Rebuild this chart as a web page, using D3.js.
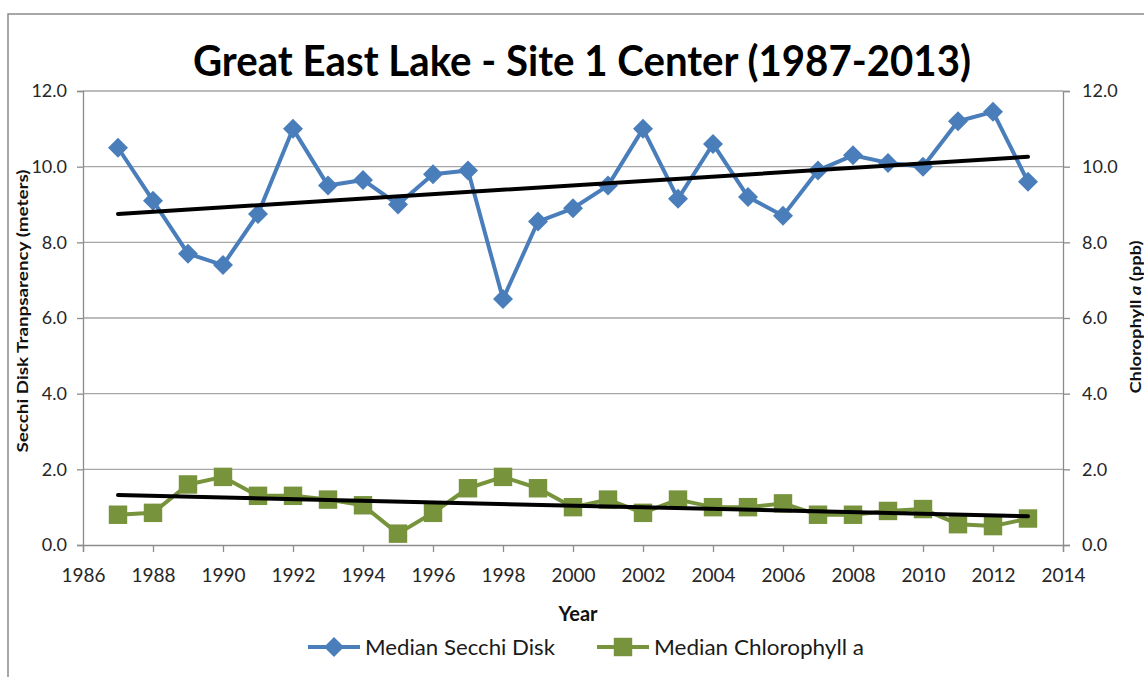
<!DOCTYPE html>
<html>
<head>
    <title>Great East Lake - Site 1 Center</title>
    <script src='https://d3js.org/d3.v7.min.js'></script>
    <style>
        html, body {
            margin: 0;
            padding: 0;
            background: white;
            font-family: Lato, 'Open Sans', Arial, sans-serif;
        }
        #vis { width: 1144px; height: 677px; overflow: hidden; }
        .axis path, .axis line { stroke: #8c8c8c; stroke-width: 1.3; }
        .axis text { font-family: Lato, Arial, sans-serif; font-size: 18px; fill: #262626; }
    </style>
</head>
<body>
<div id="vis"></div>
<script>

// data
var years = [1987, 1988, 1989, 1990, 1991, 1992, 1993, 1994, 1995, 1996, 1997, 1998, 1999, 2000,
             2001, 2002, 2003, 2004, 2005, 2006, 2007, 2008, 2009, 2010, 2011, 2012, 2013];
var secchi = [10.5, 9.1, 7.7, 7.4, 8.75, 11.0, 9.5, 9.65, 9.0, 9.8, 9.9, 6.5, 8.55, 8.9,
              9.5, 11.0, 9.15, 10.6, 9.2, 8.7, 9.9, 10.3, 10.1, 10.0, 11.2, 11.45, 9.6];
var chlorophyll = [0.8, 0.85, 1.6, 1.8, 1.3, 1.3, 1.2, 1.05, 0.3, 0.85, 1.5, 1.8, 1.5, 1.0,
                   1.2, 0.85, 1.2, 1.0, 1.0, 1.1, 0.8, 0.8, 0.9, 0.95, 0.55, 0.5, 0.7];
// linear trendline end points (Excel trendline)
var trendYears = [1987, 2013];
var secchiTrend = [8.75, 10.26];
var chlTrend = [1.32, 0.76];

var xTicks = [1986, 1988, 1990, 1992, 1994, 1996, 1998, 2000, 2002, 2004, 2006, 2008, 2010, 2012, 2014];
var yTicks = [0, 2, 4, 6, 8, 10, 12];

var width = 1144, height = 677;
var plot = {left: 83, right: 1063, top: 91, bottom: 545};
var blue = '#4a7ebb', green = '#77933c';

var svg = d3.select('#vis')
    .append('svg')
    .attr('width', width)
    .attr('height', height);

// chart frame
svg.append('rect')
    .attr('x', 8).attr('y', 14)
    .attr('width', 1160).attr('height', 700)
    .attr('fill', 'none')
    .attr('stroke', '#8a8a8a')
    .attr('stroke-width', 1.5);

var x_scale = d3.scaleLinear().domain([1986, 2014]).range([plot.left, plot.right]);
var y_scale = d3.scaleLinear().domain([0, 12]).range([plot.bottom, plot.top]);
var y2_scale = d3.scaleLinear().domain([0, 12]).range([plot.bottom, plot.top]);

// gridlines
svg.append('g').selectAll('line')
    .data(yTicks.slice(1))
    .enter().append('line')
    .attr('x1', plot.left).attr('x2', plot.right)
    .attr('y1', function(d) {return y_scale(d);})
    .attr('y2', function(d) {return y_scale(d);})
    .attr('stroke', '#a6a6a6')
    .attr('stroke-width', 1.3);

var fmt = d3.format('.1f');
svg.append('g').attr('class', 'axis')
    .attr('transform', 'translate(' + plot.left + ',0)')
    .call(d3.axisLeft(y_scale).tickValues(yTicks).tickFormat(fmt).tickSizeOuter(0).tickSize(6).tickPadding(10));
svg.append('g').attr('class', 'axis')
    .attr('transform', 'translate(' + plot.right + ',0)')
    .call(d3.axisRight(y2_scale).tickValues(yTicks).tickFormat(fmt).tickSizeOuter(0).tickSize(7).tickPadding(12));
svg.append('g').attr('class', 'axis')
    .attr('transform', 'translate(0,' + plot.bottom + ')')
    .call(d3.axisBottom(x_scale).tickValues(xTicks).tickFormat(d3.format('d')).tickSizeOuter(0).tickSize(7).tickPadding(17))
    .selectAll('text').style('font-size', '19px');

// series lines
var secchiLine = d3.line()
    .x(function(d, i) {return x_scale(years[i]);})
    .y(function(d) {return y_scale(d);});
var chlLine = d3.line()
    .x(function(d, i) {return x_scale(years[i]);})
    .y(function(d) {return y2_scale(d);});

svg.append('path').datum(secchi)
    .attr('d', secchiLine)
    .attr('fill', 'none').attr('stroke', blue).attr('stroke-width', 4).attr('stroke-linejoin', 'round');
svg.append('path').datum(chlorophyll)
    .attr('d', chlLine)
    .attr('fill', 'none').attr('stroke', green).attr('stroke-width', 4).attr('stroke-linejoin', 'round');

var diamond = d3.symbol().type(d3.symbolSquare).size(200);
var square = d3.symbol().type(d3.symbolSquare).size(340);

svg.append('g').selectAll('path')
    .data(secchi)
    .enter().append('path')
    .attr('d', diamond)
    .attr('fill', blue)
    .attr('transform', function(d, i) {return 'translate(' + x_scale(years[i]) + ',' + y_scale(d) + ') rotate(45)';});
svg.append('g').selectAll('path')
    .data(chlorophyll)
    .enter().append('path')
    .attr('d', square)
    .attr('fill', green)
    .attr('transform', function(d, i) {return 'translate(' + x_scale(years[i]) + ',' + y2_scale(d) + ')';});

// trendlines on top
var trend = d3.line()
    .x(function(d, i) {return x_scale(trendYears[i]);})
    .y(function(d) {return y_scale(d);});
svg.append('path').datum(secchiTrend)
    .attr('d', trend).attr('fill', 'none').attr('stroke', 'black').attr('stroke-width', 4).attr('stroke-linecap', 'round');
svg.append('path').datum(chlTrend)
    .attr('d', trend).attr('fill', 'none').attr('stroke', 'black').attr('stroke-width', 4).attr('stroke-linecap', 'round');

// title
svg.append('text')
    .attr('x', 582).attr('y', 76)
    .attr('text-anchor', 'middle')
    .attr('textLength', 778).attr('lengthAdjust', 'spacingAndGlyphs')
    .style('font-family', 'Lato, Arial, sans-serif')
    .style('font-weight', 'bold')
    .style('font-size', '42px')
    .style('fill', '#000')
    .text('Great East Lake - Site 1 Center (1987-2013)');

// axis titles
svg.append('text')
    .attr('transform', 'translate(28,311) rotate(-90)')
    .attr('text-anchor', 'middle')
    .attr('textLength', 283).attr('lengthAdjust', 'spacingAndGlyphs')
    .style('font-weight', 'bold').style('font-size', '15.5px').style('fill', '#111')
    .text('Secchi Disk Tranpsarency (meters)');

var rt = svg.append('text')
    .attr('transform', 'translate(1141,317) rotate(-90)')
    .attr('text-anchor', 'middle')
    .attr('textLength', 153).attr('lengthAdjust', 'spacingAndGlyphs')
    .style('font-weight', 'bold').style('font-size', '15.5px').style('fill', '#111');
rt.append('tspan').text('Chlorophyll ');
rt.append('tspan').style('font-style', 'italic').text('a');
rt.append('tspan').text(' (ppb)');

svg.append('text')
    .attr('x', 578).attr('y', 621)
    .attr('text-anchor', 'middle')
    .style('font-weight', 'bold').style('font-size', '20px').style('fill', '#111')
    .text('Year');

// legend
var legend = [
    {name: 'Median Secchi Disk', color: blue, shape: 'diamond', x: 308, w: 190},
    {name: 'Median Chlorophyll a', color: green, shape: 'square', x: 597, w: 210}
];
var lg = svg.append('g').selectAll('g')
    .data(legend)
    .enter().append('g')
    .attr('transform', function(d) {return 'translate(' + d.x + ',647)';});
lg.append('line')
    .attr('x1', 0).attr('x2', 52)
    .attr('stroke', function(d) {return d.color;})
    .attr('stroke-width', 4);
lg.append('path')
    .attr('d', function(d) {return d.shape == 'diamond' ? diamond() : square();})
    .attr('fill', function(d) {return d.color;})
    .attr('transform', function(d) {return 'translate(26,0)' + (d.shape == 'diamond' ? ' rotate(45)' : '');});
lg.append('text')
    .attr('x', 57).attr('y', 8)
    .attr('textLength', function(d) {return d.w;}).attr('lengthAdjust', 'spacingAndGlyphs')
    .style('font-size', '21px').style('fill', '#1a1a1a')
    .text(function(d) {return d.name;});

</script>
</body>
</html>
